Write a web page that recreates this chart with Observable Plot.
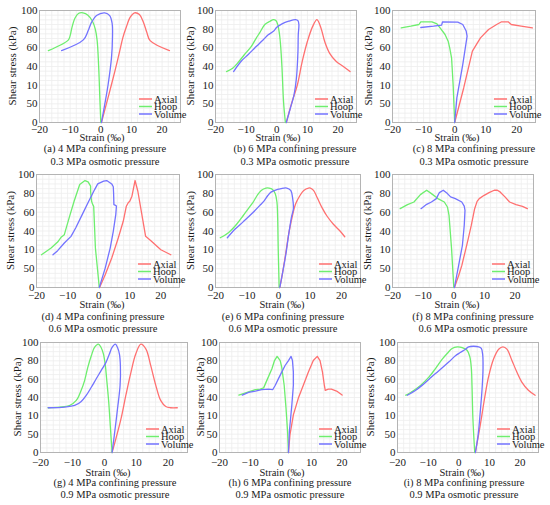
<!DOCTYPE html>
<html><head><meta charset="utf-8">
<script src="https://cdn.jsdelivr.net/npm/d3@7"></script>
<script src="https://cdn.jsdelivr.net/npm/@observablehq/plot@0.6"></script>
<style>
html,body{margin:0;padding:0;background:#fff;}
#root{position:relative;width:550px;height:505px;overflow:hidden;background:#fff;font-family:"Liberation Serif","Times New Roman",serif;}
#root svg, #root svg text, #root svg g { font-family:"Liberation Serif","Times New Roman",serif !important; }
#root svg { font-variant-numeric: normal !important; }
</style></head><body><div id="root"></div>
<script>
// ---------- labels / categories ----------
const seriesNames = ["Axial", "Hoop", "Volume"];
const seriesColors = ["#ff7070", "#6eee6e", "#7373ff"];
const xTicks = [-20, -10, 0, 10, 20];
const yTickValues = [-20, 0, 20, 40, 60, 80, 100];
const yTickLabels = ["0", "50", "10", "40", "60", "80", "100"];
const panelLetters = ["a", "b", "c", "d", "e", "f", "g", "h", "i"];
const confiningMPa = ["4", "6", "8", "4", "6", "8", "4", "6", "8"];
const osmoticMPa = ["0.3", "0.3", "0.3", "0.6", "0.6", "0.6", "0.9", "0.9", "0.9"];
const xAxisTitle = "Strain (\u2030)";
const yAxisTitle = "Shear stress (kPa)";

// ---------- series values [strain, stress] ----------
const axialA = [[0.2,-20],[1.8,-0.4],[3.5,21],[4.9,39],[6.2,57],[7.2,71],[8.3,82],[9.6,92.8],[11,97.5],[12.6,95.7],[13.9,87.5],[15,76.7],[16.1,67.7],[22.4,57]];
const hoopA = [[0,-20],[-0.3,5],[-0.7,40],[-1.2,68],[-1.8,80],[-2.8,89],[-4.2,95],[-5.8,97.5],[-7.2,97],[-8.4,92],[-9.4,82],[-10.1,72],[-10.7,68],[-17.1,57]];
const volumeA = [[0.2,-20],[1.3,-0.4],[2.4,21],[3.5,50],[3.8,71],[3.7,86],[2.9,94.6],[1.3,97.5],[-1.4,94.6],[-3,87.5],[-4.1,78.5],[-5.7,68.5],[-12.8,57]];

const axialB = [[3.1,-20],[5,2.3],[6.7,20.2],[8.3,45.4],[10,67],[11.7,83],[13.1,90.3],[14.4,81.3],[15.6,67],[17.2,54.4],[19.4,45.4],[21.7,40],[23.9,34.6]];
const hoopB = [[2.8,-20],[2.2,2.3],[1.7,38],[1.3,60],[0.9,74],[0.3,85],[-0.3,89.2],[-1.1,90.3],[-2.2,88.5],[-3.9,85],[-5.6,76],[-6.7,70.5],[-8.3,61.6],[-10.6,52.6],[-12.8,43.6],[-14.4,38.2],[-16.4,34.6]];
const volumeB = [[3.1,-20],[4.4,-5],[5.6,9.4],[6.4,27.4],[6.9,56],[7,74],[7.2,85],[6.9,89.2],[6.1,90.3],[3.9,88.5],[1.7,85.6],[0,82],[-1.1,77.7],[-2.8,74],[-4.4,68.7],[-5.6,65],[-7.2,59.8],[-9.4,52.6],[-11.7,45.4],[-14.1,34.6]];

const axialC = [[0,-20],[2.9,17],[5.7,56.4],[8.3,70.7],[10.9,79.6],[13.5,85],[15.1,87.9],[17.2,87.9],[18.2,85],[21.4,83.2],[25,81.4]];
const hoopC = [[0,-20],[-0.5,20.7],[-1,49.3],[-1.6,60],[-2.1,67.1],[-3.1,74.3],[-4.7,81.4],[-5.7,85.7],[-7.3,87.9],[-10.9,87.9],[-11.5,85],[-14.1,83.2],[-17.2,81.4]];
const volumeC = [[0,-20],[0.7,6.4],[2.6,42],[4,72.5],[3.7,78],[2.6,85],[1,87.5],[-3.9,87.9],[-4.2,84.3],[-6.8,83.2],[-10.9,81.8]];

const axialD = [[0.3,-20],[2.1,-6.5],[4.2,11.3],[6.3,32.6],[7.9,50.3],[8.9,66.3],[9.5,70],[10,71.6],[10.7,77],[11.7,93.6],[12.6,82.2],[13.7,61],[15.1,34.3],[16.8,29.7],[20,20.1],[23.2,14.8]];
const hoopD = [[0.2,-20],[-1.05,21.9],[-1.6,66.3],[-1.9,68],[-2.3,71.6],[-2.6,82.2],[-2.6,87.6],[-3.4,92.2],[-4.4,93.6],[-6.1,89.4],[-7.9,71.6],[-9.5,53.9],[-11.05,36.1],[-12.1,33.3],[-13.2,28.3],[-15.3,21.9],[-18.4,14.8]];
const volumeD = [[0.2,-20],[2.1,0.6],[3.7,21.9],[4.7,39.7],[5.5,57.4],[5.7,66],[5.6,67],[4.9,68],[4.8,80],[4.7,87],[4.2,90],[2.6,93.6],[1.6,92.9],[-0.3,90.1],[-1.3,84],[-3.2,71.6],[-5.3,57.4],[-7.4,43.2],[-8.9,34.3],[-11.05,27.2],[-13.2,19.1],[-14.7,14.8]];

const axialE = [[0.4,-20],[1.25,-4.9],[2.3,16.6],[3.3,38.2],[4.4,56.2],[5.4,68.7],[6.8,77.7],[8,83.1],[9.5,85.6],[10.1,85.6],[11.1,83.1],[12.2,75.9],[13.75,65.1],[15.3,56.2],[17.4,47.2],[19.5,40],[21,33.9]];
const hoopE = [[0.2,-20],[-0.1,20.2],[-0.3,56.2],[-0.5,70.5],[-1.04,79.5],[-1.9,84.2],[-3,85.6],[-4,85.6],[-5.5,83.1],[-6.8,77.7],[-8.1,70.5],[-9.7,63.3],[-11.25,56.2],[-13.3,47.2],[-15.9,38.2],[-18.5,32.8]];
const volumeE = [[0.4,-20],[1.25,-4.9],[2.3,14.8],[3.3,38.2],[4.2,56.2],[4.7,63.3],[4.5,74.1],[3.85,83.1],[2.6,85.6],[0.7,84.9],[-0.3,84.2],[-2.4,81.3],[-3.4,77.7],[-4.5,72.3],[-6,66.9],[-8.6,58],[-11.25,49.7],[-13.85,41.8],[-16.25,32.8]];

const axialF = [[0.2,-20],[1.56,-7.5],[2.6,3.2],[3.65,17.4],[4.7,31.7],[5.7,45.9],[6.8,63.7],[7.6,71.5],[8.3,74.4],[9.9,77.9],[11.5,80.8],[13.2,83.3],[14.2,83.3],[15.1,81.5],[16.7,76.2],[18.2,70.8],[20.3,68],[22.4,66.2],[24,63.7]];
const hoopF = [[0,-20],[-0.73,21],[-1.56,56.6],[-2.08,65.5],[-3.1,70.8],[-5.2,74.4],[-7.3,79.7],[-8.85,83.3],[-10.9,78.6],[-13,70.8],[-15.1,68],[-17.5,63.7]];
const volumeF = [[0.2,-20],[1.56,3.2],[2.8,24.6],[3.4,45.9],[3.65,61.9],[3.4,66.5],[2.6,70.8],[0.5,74.4],[-1.04,76.2],[-2.08,79.7],[-3.44,83.3],[-4.7,80.8],[-5.7,74.4],[-7.3,70.8],[-8.85,68.3],[-10.7,63.7]];

const axialG = [[2.4,-20],[3.6,-4.8],[5.2,16.9],[6.7,42.2],[8.3,67.5],[9.8,87.4],[11.4,98.2],[13,92.8],[14.5,74.7],[16.1,53],[17.6,36.8],[19.2,30.2],[20.7,28.8],[22.8,28.8]];
const hoopG = [[2.4,-20],[1.9,6],[1.35,34.9],[0.7,60.2],[0.3,74.7],[-0.3,87.4],[-1.04,94.6],[-1.9,98.2],[-3.1,94.6],[-4.1,85.5],[-5.2,72.9],[-6.2,58.4],[-7.3,47.6],[-8.8,36.8],[-10.9,31.3],[-14,29.5],[-17.6,28.8]];
const volumeG = [[2.4,-20],[3.1,-1.2],[4.1,27.7],[4.9,53],[5,74.7],[4.7,87.4],[4.1,94.6],[3.4,98.2],[2.4,94.6],[1.55,87.4],[0.5,78.3],[-1.04,69.3],[-2.6,60.2],[-4.1,51.2],[-5.7,42.2],[-7.25,35.7],[-9.3,31.3],[-12.4,29.5],[-17.6,28.8]];

const axialH = [[2.5,-20],[3,-0.4],[4.1,21.1],[5.7,39.1],[7.35,53.4],[9,67.7],[10.6,80.3],[11.9,84.9],[12.8,80.3],[13.6,67.7],[14.2,53.4],[14.5,47.7],[15.5,49.1],[16.5,49.1],[18.2,47],[20,42.7]];
const hoopH = [[2.5,-20],[2.2,3.2],[1.7,28.3],[1.1,53.4],[0.3,73.1],[-0.2,80.3],[-1.2,84.9],[-2.05,80.3],[-2.9,71.3],[-4.3,60.6],[-5.6,50.5],[-6.7,49.1],[-8.3,48.7],[-10.5,46.2],[-13.7,42.7]];
const volumeH = [[2.5,-20],[2.8,3.2],[3.6,31.9],[4.1,53.4],[4.1,67.7],[3.8,80.3],[3.35,84.9],[2.5,80.3],[1.4,74.9],[0.3,67.7],[-0.76,60.6],[-1.8,53.4],[-2.6,48.7],[-4,49.1],[-6.2,48.7],[-8.3,47],[-10.5,45.5],[-12.6,42.7]];

const axialI = [[5.4,-20],[7,9.8],[8.4,38.9],[9.7,62.5],[11.4,82.5],[13,92.7],[14.4,95.3],[15.7,92.7],[17.3,80.7],[18.9,68],[20.5,57.1],[22.7,48],[24.9,42.5]];
const hoopI = [[5.2,-20],[4.6,17.1],[4.3,53.5],[4.1,71.6],[3.6,84.4],[2.7,91.6],[1.1,94.5],[-0.5,95.3],[-2.2,93.5],[-3.8,88],[-5.4,81.8],[-7.6,71.6],[-9.7,62.5],[-12.4,53.5],[-14.6,48],[-16.8,43.3],[-17.3,42.5]];
const volumeI = [[5.4,-20],[6.3,-1.1],[7,24.4],[7.6,49.8],[7.9,71.6],[7.8,86.2],[7.35,93.5],[6.5,95.3],[3.2,95.3],[2.2,92.7],[0.5,89.1],[-1.1,85.5],[-3.2,78.9],[-5.4,72.4],[-7.6,66.2],[-9.7,60],[-11.9,53.5],[-14.05,48],[-16.8,42.5]];

const axialSeries = [axialA, axialB, axialC, axialD, axialE, axialF, axialG, axialH, axialI];
const hoopSeries = [hoopA, hoopB, hoopC, hoopD, hoopE, hoopF, hoopG, hoopH, hoopI];
const volumeSeries = [volumeA, volumeB, volumeC, volumeD, volumeE, volumeF, volumeG, volumeH, volumeI];

// ---------- layout (pixels) ----------
const layout = [
  {L:39,  R:180, T:10,  B:122, pad:2.3, sx:102, sy:137, cx:105, c1:148, c2:161, yl:12,  curve:"catmull-rom"},
  {L:215, R:356, T:10,  B:122, pad:2.3, sx:278, sy:137, cx:295, c1:148, c2:161, yl:190, curve:"catmull-rom"},
  {L:392, R:535, T:10,  B:122, pad:2.3, sx:457, sy:137, cx:474, c1:148, c2:161, yl:368, curve:"linear"},
  {L:36,  R:179, T:174, B:287, pad:4,   sx:102, sy:304, cx:103, c1:316, c2:328, yl:10,  curve:"linear"},
  {L:215, R:360, T:174, B:287, pad:4,   sx:282, sy:304, cx:283, c1:316, c2:328, yl:190, curve:"catmull-rom"},
  {L:392, R:533, T:174, B:287, pad:4,   sx:457, sy:304, cx:473, c1:316, c2:328, yl:367, curve:"linear"},
  {L:40,  R:187, T:342, B:452, pad:6,   sx:108, sy:472, cx:115, c1:482, c2:494, yl:17,  curve:"catmull-rom"},
  {L:219, R:360, T:342, B:452, pad:6,   sx:282, sy:472, cx:290, c1:482, c2:494, yl:200, curve:"linear"},
  {L:397, R:538, T:342, B:452, pad:6,   sx:462, sy:472, cx:464, c1:482, c2:494, yl:370, curve:"catmull-rom"}
];

const root = document.getElementById("root");
const yLab = new Map(yTickValues.map((v, i) => [v, yTickLabels[i]]));
const fmtX = d => d < 0 ? "\u2212" + Math.abs(d) : String(d);
const gridX = d3.range(-20, 26.01, 2);
const gridY = d3.range(-20, 100.01, 5);
const textColor = "#1a1a1a";
const serif = '"Liberation Serif", "Times New Roman", serif';

layout.forEach((p, i) => {
  const ML = 34, MR = 4, MT = 6, MB = 22;
  const series = [axialSeries[i], hoopSeries[i], volumeSeries[i]];
  const svg = Plot.plot({
    width: p.R - p.L + ML + MR,
    height: p.B - p.T + MT + MB,
    marginLeft: ML, marginRight: MR, marginTop: MT, marginBottom: MB,
    x: {domain: [-20, 26], ticks: xTicks, tickFormat: fmtX, tickSize: 0, tickPadding: p.pad, label: null},
    y: {domain: [-20, 100], ticks: yTickValues, tickFormat: d => yLab.get(d), tickSize: 0, tickPadding: 2, label: null},
    style: `position:absolute;left:${p.L - ML}px;top:${p.T - MT}px;overflow:visible;background:transparent;font-family:${serif};font-size:11px;color:${textColor};max-width:none;`,
    marks: [
      Plot.ruleX(gridX, {stroke: "#ededed", strokeWidth: 0.8}),
      Plot.ruleY(gridY, {stroke: "#ededed", strokeWidth: 0.8}),
      Plot.frame({stroke: "#b4b4b4"}),
      ...series.map((s, k) => Plot.line(s, {x: d => d[0], y: d => d[1], stroke: seriesColors[k], strokeWidth: 1.3, curve: p.curve}))
    ]
  });
  svg.setAttribute("font-family", serif);
  svg.setAttribute("font-size", "11");
  root.appendChild(svg);
});

// overlay: axis titles, captions, legends
const ov = d3.select(root).append("svg")
  .attr("width", 550).attr("height", 505)
  .style("position", "absolute").style("left", "0px").style("top", "0px").style("overflow", "visible")
  .attr("font-family", serif)
  .attr("fill", textColor);

const legendOffsets = [-23, -15.5, -8];
layout.forEach((p, i) => {
  ov.append("text").attr("transform", `translate(${p.yl},${(p.T + p.B) / 2}) rotate(-90)`)
    .attr("text-anchor", "middle").attr("dy", "0.35em").attr("font-size", 11).text(yAxisTitle);
  ov.append("text").attr("x", p.sx).attr("y", p.sy).attr("dy", "0.35em")
    .attr("text-anchor", "middle").attr("font-size", 10.5).text(xAxisTitle);
  ov.append("text").attr("x", p.cx).attr("y", p.c1).attr("dy", "0.35em")
    .attr("text-anchor", "middle").attr("font-size", 10.5)
    .text(`(${panelLetters[i]}) ${confiningMPa[i]} MPa confining pressure`);
  ov.append("text").attr("x", p.cx).attr("y", p.c2).attr("dy", "0.35em")
    .attr("text-anchor", "middle").attr("font-size", 10.5)
    .text(`${osmoticMPa[i]} MPa osmotic pressure`);
  seriesNames.forEach((name, k) => {
    const y = p.B + legendOffsets[k];
    ov.append("line").attr("x1", p.R - 41).attr("x2", p.R - 28).attr("y1", y).attr("y2", y)
      .attr("stroke", seriesColors[k]).attr("stroke-width", 1.5);
    ov.append("text").attr("x", p.R - 26).attr("y", y).attr("dy", "0.35em")
      .attr("font-size", 10.5).text(name);
  });
});
</script></body></html>
